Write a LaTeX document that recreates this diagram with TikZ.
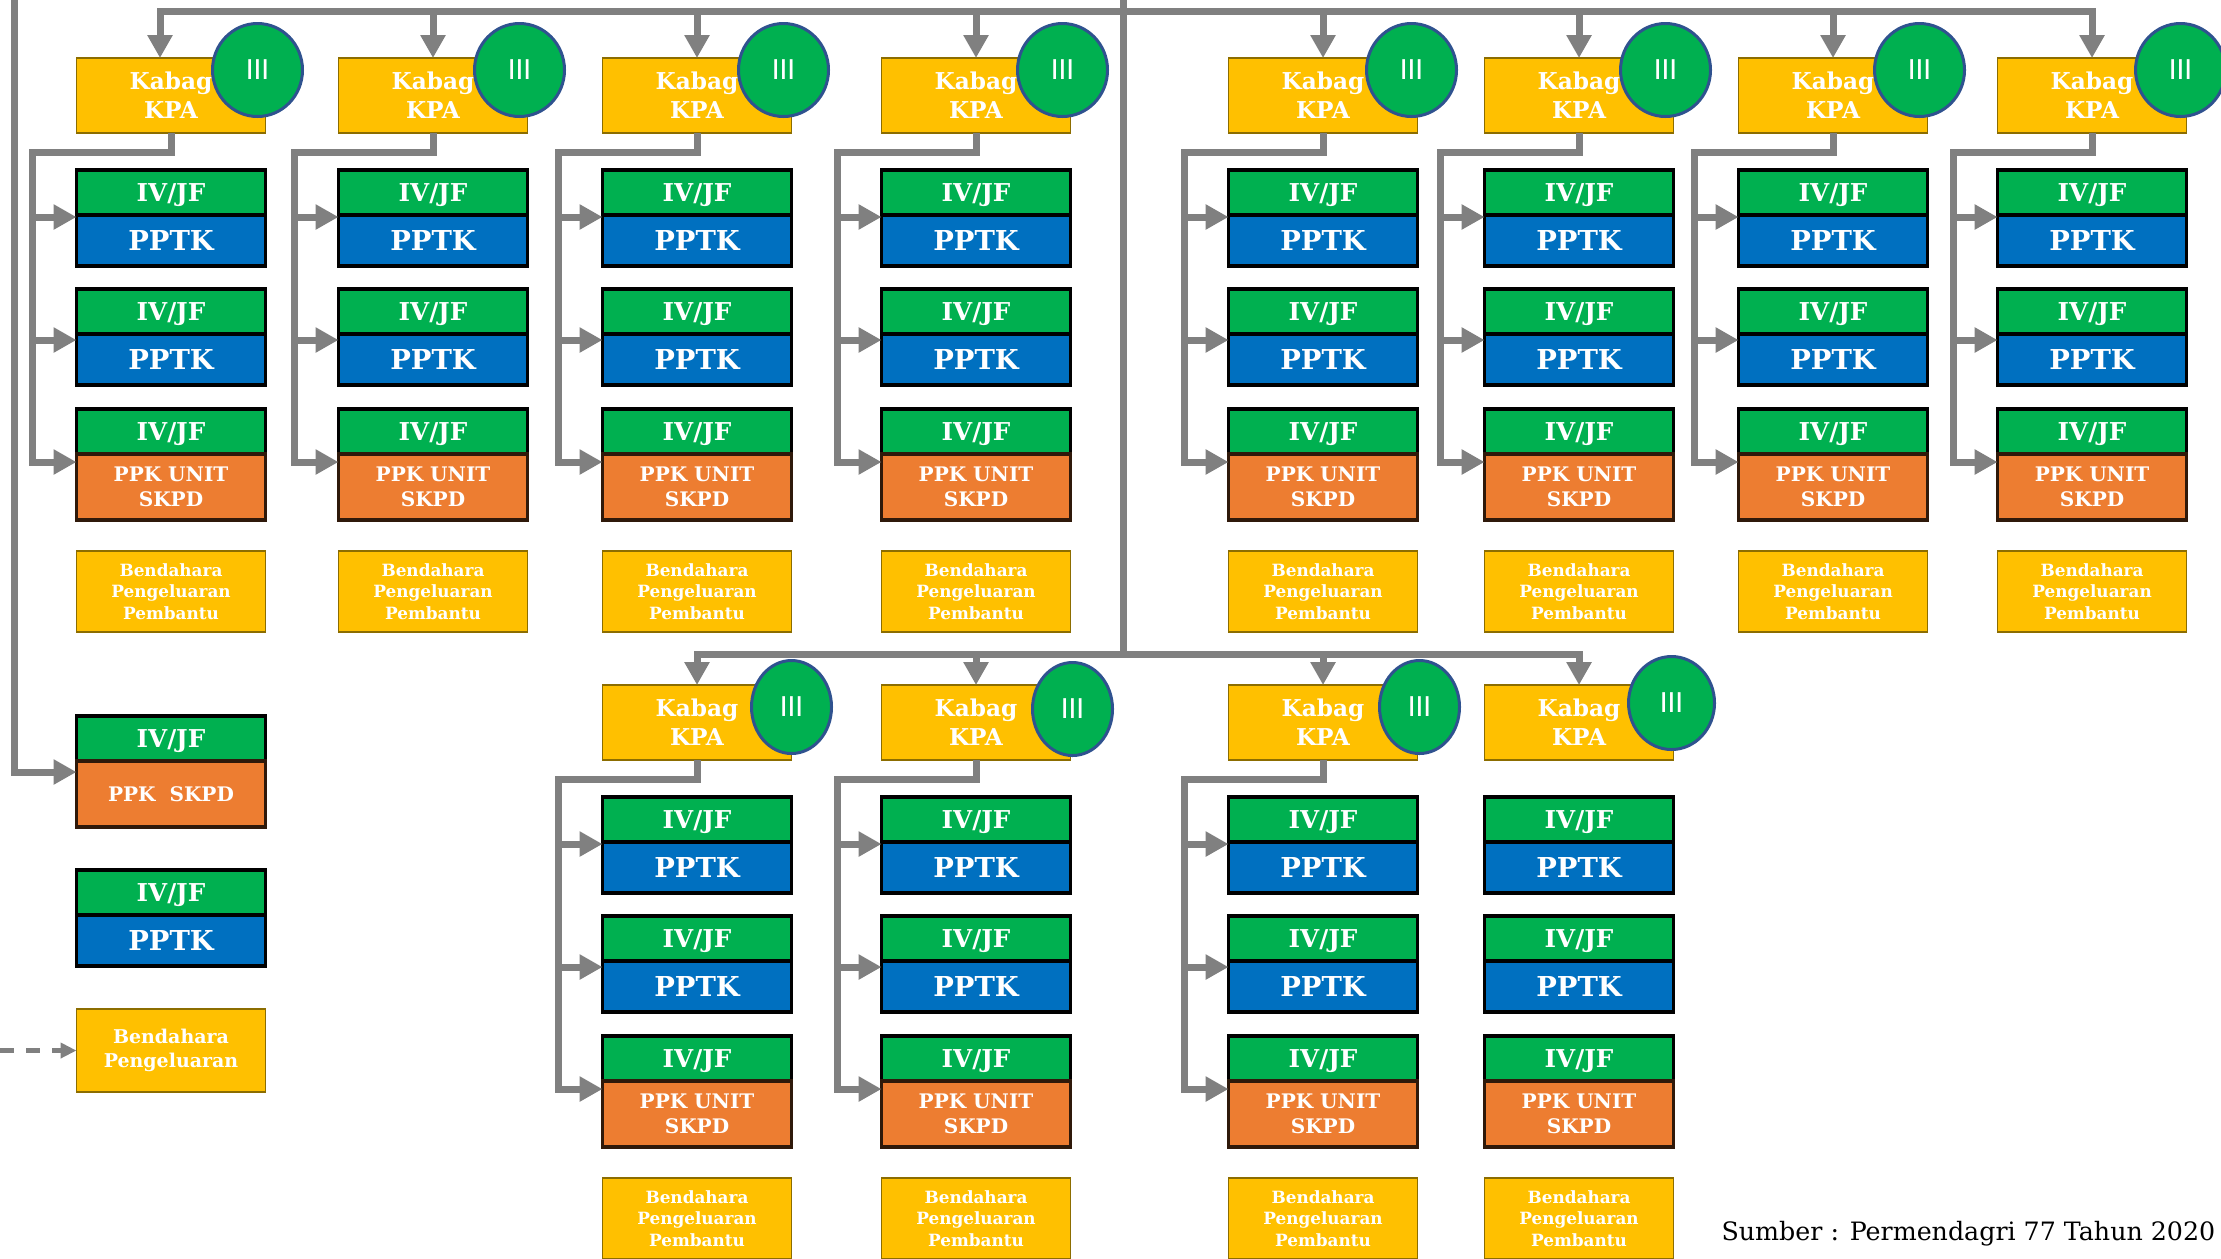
\documentclass[tikz,border=0pt]{standalone}
\usepackage{fontspec}
\setmainfont{DejaVu Serif}
\newfontfamily\romfont{Carlito}
\usetikzlibrary{positioning,arrows.meta,calc,shapes.geometric}
\definecolor{kpagold}{HTML}{FFC000}
\definecolor{kpaedge}{HTML}{8C6D00}
\definecolor{jfgreen}{HTML}{00B050}
\definecolor{pptkblue}{HTML}{0070C0}
\definecolor{ppkorange}{HTML}{ED7D31}
\definecolor{linegray}{HTML}{808080}
\definecolor{circedge}{HTML}{2F528F}
\tikzset{
  boxtext/.style={text=white,align=center,inner sep=0pt,outer sep=0pt,
    minimum width=18.9mm},
  kpabox/.style={boxtext,draw=kpaedge,line width=0.15mm,fill=kpagold,
    minimum height=7.5mm,font=\fontsize{6.6}{8.2}\selectfont\bfseries},
  golcirc/.style={ellipse,draw=circedge,line width=0.3mm,fill=jfgreen,
    text=white,inner sep=0pt,font=\romfont\fontsize{8.8}{9}\selectfont},
  jfbox/.style={boxtext,draw=black,line width=0.35mm,fill=jfgreen,
    minimum height=4.5mm,text height=1.8mm,text depth=0pt,
    font=\fontsize{7}{8}\selectfont\bfseries},
  pptkbox/.style={boxtext,draw=black,line width=0.35mm,fill=pptkblue,
    minimum height=5.1mm,font=\fontsize{7.8}{9}\selectfont\bfseries},
  ppkbox/.style={boxtext,draw=black!80!ppkorange,line width=0.35mm,
    fill=ppkorange,minimum height=6.6mm,font=\fontsize{5.7}{7}\selectfont\bfseries},
  bpbox/.style={boxtext,draw=kpaedge,line width=0.15mm,fill=kpagold,
    minimum height=8.1mm,font=\fontsize{4.8}{6.2}\selectfont\bfseries},
  gline/.style={draw=linegray,line width=0.7mm},
  garrow/.style={gline,-{Triangle[length=2.3mm,width=2.4mm]}},
  gdash/.style={draw=linegray,line width=0.5mm,dash pattern=on 1.4mm off 1.2mm,
    -{Triangle[length=1.6mm,width=1.5mm]}},
}

\begin{document}
\begin{tikzpicture}
  \useasboundingbox (0,0) rectangle (22.21,-12.58);
  \foreach \n/\x/\y/\cx/\cy/\cw in {1/1.71/-0.58/-0.08/-0.12/9,
      2/4.33/-0.58/-0.08/-0.12/9, 3/6.97/-0.58/-0.08/-0.12/9,
      4/9.76/-0.58/-0.08/-0.12/9, 5/13.23/-0.58/-0.06/-0.12/9,
      6/15.79/-0.58/-0.08/-0.12/9, 7/18.33/-0.58/-0.08/-0.12/9,
      8/20.92/-0.58/-0.06/-0.12/9, 9/6.97/-6.85/0/-0.22/8,
      10/9.76/-6.85/0.02/-0.24/8, 11/13.23/-6.85/0.02/-0.22/8,
      12/15.79/-6.85/-0.02/-0.18/8.6}{
    \node[kpabox,anchor=north] (k\n) at (\x,\y) {Kabag\\KPA};
    \node[golcirc,minimum width=\cw mm,minimum height=9.3mm] (g\n)
      at ([shift={(\cx,\cy)}]k\n.north east) {III};
    \node[jfbox,below=3.7mm of k\n] (ja\n) {IV/JF};
    \node[pptkbox,below=0pt of ja\n] (pa\n) {PPTK};
    \node[jfbox,below=2.3mm of pa\n] (jb\n) {IV/JF};
    \node[pptkbox,below=0pt of jb\n] (pb\n) {PPTK};
    \node[jfbox,below=2.4mm of pb\n] (jc\n) {IV/JF};
    \node[ppkbox,below=0pt of jc\n] (pc\n) {PPK UNIT\\SKPD};
    \node[bpbox,below=3.1mm of pc\n] (bp\n) {Bendahara\\Pengeluaran\\Pembantu};
  }
  \foreach \n in {1,...,11}{
    \draw[garrow] ([xshift=-4.4mm,yshift=-0.2mm]pa\n.north west)
      -- ([yshift=-0.2mm]pa\n.north west);
    \draw[garrow] ([xshift=-4.4mm,yshift=-0.6mm]pb\n.north west)
      -- ([yshift=-0.6mm]pb\n.north west);
    \draw[garrow] (k\n.south) -- ++(0,-0.19)
      -| ([xshift=-4.4mm,yshift=-0.8mm]pc\n.north west)
      -- ([yshift=-0.8mm]pc\n.north west);
  }

  \node[jfbox,anchor=north] (jd) at (1.71,-7.16) {IV/JF};
  \node[ppkbox,below=0pt of jd] (pd) {PPK\ \ SKPD};
  \node[jfbox,below=4.3mm of pd] (je) {IV/JF};
  \node[pptkbox,below=0pt of je] (pe) {PPTK};
  \node[bpbox,minimum height=8.3mm,font=\fontsize{5.4}{7}\selectfont\bfseries,
    below=4.3mm of pe] (bu) {Bendahara\\Pengeluaran};

  \coordinate (lefttop) at (0.14,0);
  \coordinate (pageleft) at (0,0);
  \coordinate (trunktop) at (11.23,0);
  \coordinate (hubtop) at (11.23,-0.11);
  \coordinate (hubbot) at (11.23,-6.54);
  \draw[gline] (trunktop) -- (hubbot);
  \draw[garrow] (hubtop) -| ([xshift=-1.1mm]k1.north);
  \draw[garrow] (hubtop) -| (k8.north);
  \foreach \n in {2,...,7}
    \draw[garrow] (k\n.north |- hubtop) -- (k\n.north);
  \draw[garrow] (hubbot) -| (k9.north);
  \draw[garrow] (hubbot) -| (k12.north);
  \foreach \n in {10,11}
    \draw[garrow] (k\n.north |- hubbot) -- (k\n.north);
  \draw[garrow] (lefttop) |- ([yshift=-1.1mm]pd.north west);
  \draw[gdash] (bu.west -| pageleft) -- (bu.west);

  \node[font=\fontsize{7.2}{9}\selectfont,anchor=east,inner sep=0pt] (src)
    at (22.16,-12.34) {Sumber : Permendagri 77 Tahun 2020};
\end{tikzpicture}
\end{document}
